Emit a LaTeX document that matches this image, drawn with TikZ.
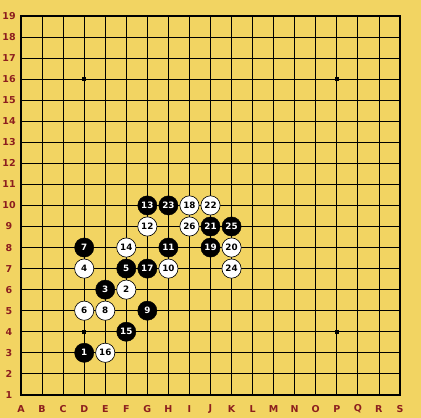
\documentclass[tikz,border=0pt]{standalone}
\usepackage{fontspec}
\setmainfont{DejaVu Sans}
\usepackage{tikz}

\definecolor{boardyellow}{RGB}{242,212,98}
\definecolor{labelred}{RGB}{140,30,30}

\begin{document}
\begin{tikzpicture}[x=0.7cm, y=0.7cm,
    bstone/.style={circle, draw=black, fill=black, text=white, inner sep=0pt,
                   minimum size=0.64cm, font=\bfseries\fontsize{8.3}{9}\selectfont},
    wstone/.style={circle, draw=black, line width=0.6pt, fill=white, text=black, inner sep=0pt,
                   minimum size=0.64cm, font=\bfseries\fontsize{8.3}{9}\selectfont},
    boardlabel/.style={text=labelred, font=\bfseries\fontsize{9}{10}\selectfont, inner sep=0pt}]

        % Board background
        \fill[boardyellow] (-1.0,-1.09) rectangle (19.0,18.76);

        % Grid lines
        \foreach \i in {1,...,17} {
            \draw[line width=0.7pt] (\i,0) -- (\i,18);
            \draw[line width=0.7pt] (0,\i) -- (18,\i);
        }
        \draw[line width=1.6pt] (0,0) rectangle (18,18);

        % Star points
        \foreach \x/\y in {3/3, 3/15, 15/3, 15/15}
            \fill (\x-0.1,\y-0.1) rectangle (\x+0.1,\y+0.1);

        % Coordinates
        \foreach \r in {1,...,19}
            \node[boardlabel] (row\r) at (-0.57,\r-1) {\r};
        \foreach \c [count=\i from 0] in {A,B,C,D,E,F,G,H,I,J,K,L,M,N,O,P,Q,R,S}
            \node[boardlabel] (col\c) at (\i,-0.67) {\c};

        % Black stones
        \node[bstone] (s1)  at (3,2) {1};
        \node[bstone] (s3)  at (4,5) {3};
        \node[bstone] (s5)  at (5,6) {5};
        \node[bstone] (s7)  at (3,7) {7};
        \node[bstone] (s9)  at (6,4) {9};
        \node[bstone] (s11) at (7,7) {11};
        \node[bstone] (s13) at (6,9) {13};
        \node[bstone] (s15) at (5,3) {15};
        \node[bstone] (s17) at (6,6) {17};
        \node[bstone] (s19) at (9,7) {19};
        \node[bstone] (s21) at (9,8) {21};
        \node[bstone] (s23) at (7,9) {23};
        \node[bstone] (s25) at (10,8) {25};

        % White stones
        \node[wstone] (s2)  at (5,5) {2};
        \node[wstone] (s4)  at (3,6) {4};
        \node[wstone] (s6)  at (3,4) {6};
        \node[wstone] (s8)  at (4,4) {8};
        \node[wstone] (s10) at (7,6) {10};
        \node[wstone] (s12) at (6,8) {12};
        \node[wstone] (s14) at (5,7) {14};
        \node[wstone] (s16) at (4,2) {16};
        \node[wstone] (s18) at (8,9) {18};
        \node[wstone] (s20) at (10,7) {20};
        \node[wstone] (s22) at (9,9) {22};
        \node[wstone] (s24) at (10,6) {24};
        \node[wstone] (s26) at (8,8) {26};
    \end{tikzpicture}
\end{document}
